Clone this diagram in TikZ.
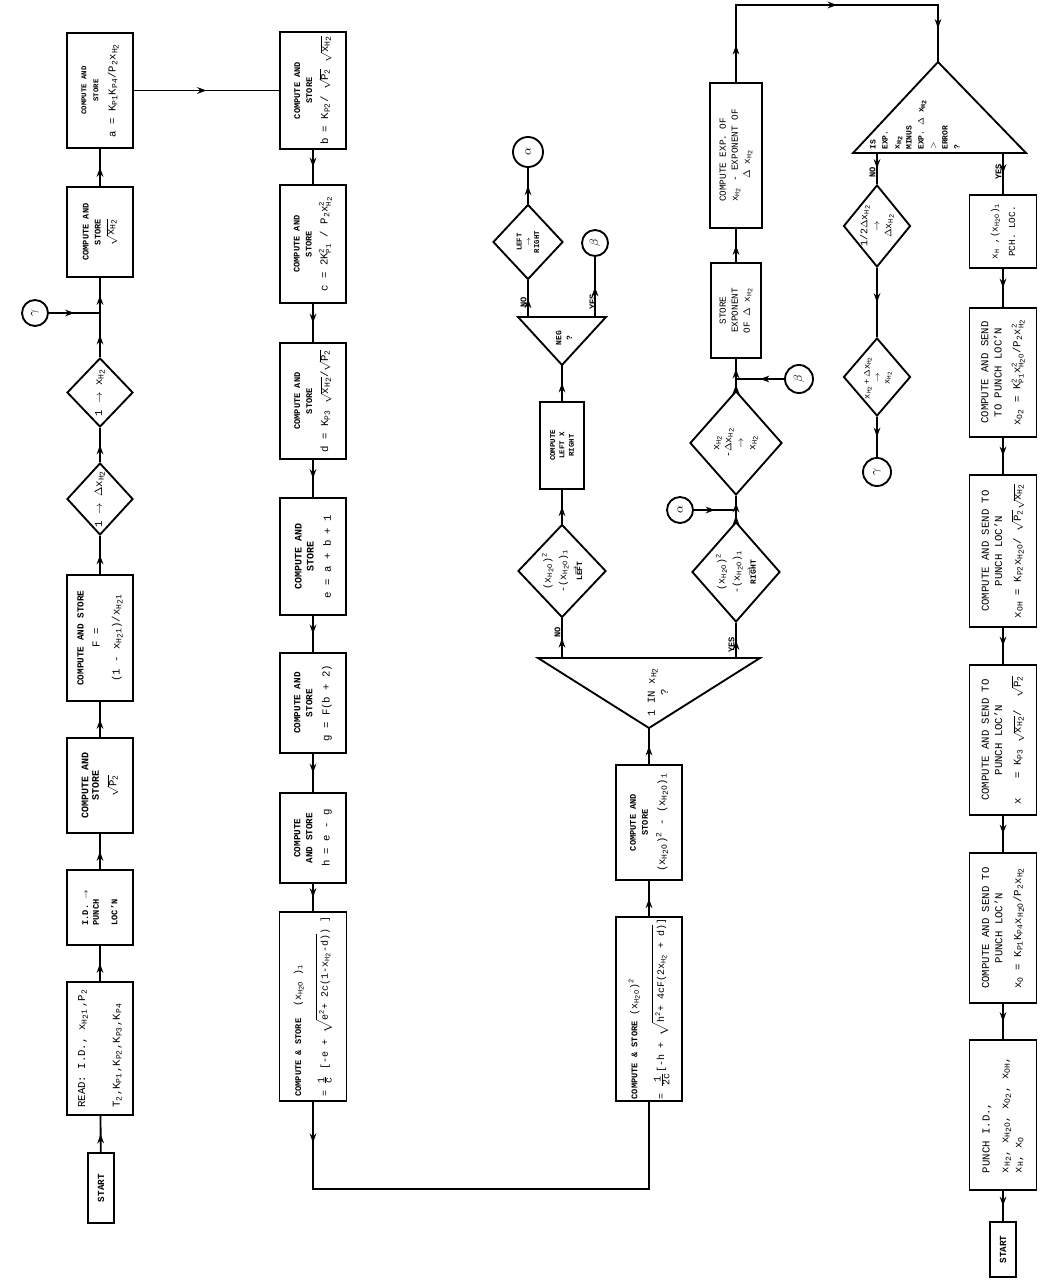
\documentclass[tikz,border=0pt]{standalone}
\usepackage{fontspec}
\setmainfont{Liberation Mono}
\usetikzlibrary{shapes.geometric,arrows.meta,decorations.markings}
\newcommand\sbs[1]{\textsubscript{#1}}
\newcommand\sps[1]{\textsuperscript{#1}}
\newcommand\lo[1]{\raisebox{-0.3ex}{#1}}
\newcommand\xH{x\sbs{H\lo{2}}}
\newcommand\xHi{x\sbs{H\lo{2}1}}
\newcommand\xHO{x\sbs{H\lo{2}O}}
\newcommand\Kp[1]{K\sbs{P#1}}
\newcommand\rtt[1]{$\sqrt{\mbox{#1}}$}
\newcommand\scr{\fontsize{5.5}{6}\selectfont}
\newcommand\sus[3]{$\mbox{#1}^{\mbox{\scr #2}}_{\mbox{\scr #3}}$}
\newcommand\hdr[2]{{\fontsize{#1}{#1}\selectfont\bfseries #2}}
\begin{document}
\begin{tikzpicture}[x=0.75pt,y=-0.75pt,
  every node/.style={font=\fontsize{8}{10}\selectfont},
  ln/.style={line width=1.4pt,line join=miter},
  pbox/.style 2 args={draw,line width=1.4pt,rotate=90,minimum width={#1*0.75pt},minimum height={#2*0.75pt},inner sep=1pt,align=center},
  pdia/.style 2 args={draw,diamond,line width=1.4pt,rotate=90,minimum width={#1*0.75pt},minimum height={#2*0.75pt},inner sep=0pt},
  dtx/.style={rotate=90,inner sep=0pt,align=center},
  pcirc/.style={draw,circle,line width=1.4pt,minimum size={#1*1.5pt},inner sep=0pt,rotate=90,font=\fontsize{9}{9}\selectfont},
  lbl/.style={rotate=90,inner sep=1pt,anchor=south,font=\fontsize{6.5}{7}\selectfont\bfseries},
  farr/.style={line width=1.4pt,postaction={decorate},decoration={markings,mark=at position #1 with {\arrow{Stealth[length=7pt,width=5pt]}}}},
  farr/.default=0.5]
\fill[white] (0,0) rectangle (1040,1284);
\useasboundingbox (0,0) rectangle (1040,1284);

% ---------------- column 1 (upward) ----------------
\node[pbox={70}{26},font=\fontsize{7}{8}\selectfont\bfseries] (start1) at (101,1188) {START};
\node[pbox={133}{66},align=left] (read) at (100,1048.5) {READ: I.D., \xHi\,,P\sbs{2}\\[16pt]T\sbs{2},\Kp{1},\Kp{2},\Kp{3},\Kp{4}};
\node[pbox={75}{66},align=left,font=\fontsize{6.5}{8}\selectfont\bfseries] (idp) at (100,907.5) {I.D. $\to$\\PUNCH\\[6pt]LOC'N};
\node[pbox={95}{66}] (sqp2) at (100,785.5) {\hdr{7.5}{COMPUTE AND}\\[-2pt]\hdr{7.5}{STORE}\\[3pt]\rtt{P\sbs{2}}};
\node[pbox={126}{66}] (fbox) at (100,638) {\hdr{7}{COMPUTE AND STORE}\\[2pt]F =\\[5pt](1 - \xHi)/\xHi};
\node[pdia={72}{66}] (d1) at (100,499) {};
\node[dtx] (d1t) at (d1) {1 $\to$ $\Delta$\xH};
\node[pdia={69}{66}] (d2) at (100,392.5) {};
\node[dtx] (d2t) at (d2) {1 $\to$ \xH};
\coordinate (j1) at (100,313);
\node[pcirc=13] (g1) at (35,313) {$\gamma$};
\node[pbox={90}{66}] (sqx) at (100,232) {\hdr{6.5}{COMPUTE AND}\\[-1pt]\hdr{6.5}{STORE}\\\rtt{\xH}};
\node[pbox={115}{66}] (abox) at (100,90.5) {\hdr{5.5}{COMPUTE AND}\\[-1pt]\hdr{5.5}{STORE}\\[3pt]a = \Kp{1}\Kp{4}/P\sbs{2}\xH};

% ---------------- column 2 (downward) ----------------
\node[pbox={117}{66}] (bbox) at (313,90.5) {\hdr{6.5}{COMPUTE AND}\\[-1pt]\hdr{6.5}{STORE}\\[2pt]b = \Kp{2}/ \rtt{P\sbs{2}} \rtt{\xH}};
\node[pbox={118}{66}] (cbox) at (313,244) {\hdr{6.5}{COMPUTE AND}\\[-1pt]\hdr{6.5}{STORE}\\[2pt]c = 2\sus{K}{2}{P1} / P\sbs{2}\sus{x}{2}{H\lo{2}}};
\node[pbox={116}{66}] (dbox) at (313,401) {\hdr{6.5}{COMPUTE AND}\\[-1pt]\hdr{6.5}{STORE}\\[2pt]d = \Kp{3} \rtt{\xH}/\rtt{P\sbs{2}}};
\node[pbox={117}{66}] (ebox) at (313,556.5) {\hdr{7.5}{COMPUTE AND}\\[-1pt]\hdr{7.5}{STORE}\\[3pt]e = a + b + 1};
\node[pbox={100}{66}] (gbox) at (313,703) {\hdr{7}{COMPUTE AND}\\[-1pt]\hdr{7}{STORE}\\[3pt]g = F(b + 2)};
\node[pbox={90}{66}] (hbox) at (313,838) {\hdr{7}{COMPUTE}\\[-1pt]\hdr{7}{AND STORE}\\[3pt]h = e - g};
\node[pbox={189}{67},align=left,font=\fontsize{7.5}{9}\selectfont] (x1box) at (313,1006.5) {\hdr{6.5}{COMPUTE \& STORE}\ \ (\xHO\ )\sbs{1}\\[8pt]= $\frac{\mbox{1}}{\mbox{c}}$ [-e + $\sqrt{\mbox{e\sps{2}+ 2c(1-\xH-d)}}$) ]};
\coordinate (c1) at (313,1189);
\coordinate (c2) at (649,1189);

% ---------------- column 3 ----------------
\node[pbox={182}{66},align=left,font=\fontsize{7.5}{9}\selectfont] (x2box) at (649,1009) {\hdr{6.5}{COMPUTE \& STORE}\ (\xHO)\sps{2}\\[8pt]= $\frac{\mbox{1}}{\mbox{2c}}$[-h + $\sqrt{\mbox{h\sps{2}+ 4cF(2\xH\ + d)}}$]};
\node[pbox={115}{66}] (diffbox) at (649,822.5) {\hdr{6.5}{COMPUTE AND}\\[-1pt]\hdr{6.5}{STORE}\\[3pt](\xHO)\sps{2} - (\xHO)\sbs{1}};

\draw[ln] (538,658) -- (760,658) -- (649,728) -- cycle;
\coordinate (T1a) at (649,728);
\coordinate (T1l) at (562,658);
\coordinate (T1r) at (736,658);
\node[dtx] (T1t) at (658,692) {1 IN \xH\\?};

\node[pdia={93}{88}] (ldiam) at (562,571) {};
\node[dtx,font=\fontsize{7.5}{9.5}\selectfont] (ldt) at (ldiam) {(\xHO)\sps{2}\\[2pt]-(\xHO)\sbs{1}\\[-1pt]{\fontsize{6}{6}\selectfont$\to$}\\[-6pt]\hdr{6}{LEFT}};
\node[pbox={87}{44},font=\fontsize{5.5}{7}\selectfont\bfseries] (lxr) at (562,445.5) {COMPUTE\\LEFT X\\RIGHT};

\draw[ln] (518,317) -- (606,317) -- (562,365) -- cycle;
\coordinate (T2a) at (562,365);
\coordinate (T2l) at (528,317);
\coordinate (T2r) at (595,317);
\node[dtx,font=\fontsize{6}{8}\selectfont\bfseries] (T2t) at (564,338) {NEG\\?};

\node[pdia={75}{70}] (lrdiam) at (528,242) {};
\node[dtx,font=\fontsize{5.5}{6.5}\selectfont\bfseries] (lrdt) at (lrdiam) {LEFT\\$\to$\\RIGHT};
\node[pcirc=15] (al1) at (528,152) {$\alpha$};
\node[pcirc=13] (be1) at (595,243) {$\beta$};

\node[pdia={100}{88}] (rdiam) at (736,572) {};
\node[dtx,font=\fontsize{7.5}{9.5}\selectfont] (rdt) at (rdiam) {(\xHO)\sps{2}\\[2pt]-(\xHO)\sbs{1}\\[-1pt]{\fontsize{6}{6}\selectfont$\to$}\\[-6pt]\hdr{6}{RIGHT}};
\coordinate (j3) at (736,510);
\node[pcirc=13] (al2) at (680,510) {$\alpha$};
\node[pdia={104}{92}] (xdiam) at (736,443) {};
\node[dtx,font=\fontsize{7.5}{9}\selectfont] (xdt) at (xdiam) {\xH\\-$\Delta$\xH\\$\to$\\\xH};
\coordinate (j2) at (736,379);
\node[pcirc=14] (be2) at (799,379) {$\beta$};
\node[pbox={95}{50},font=\fontsize{7}{9}\selectfont] (stbox) at (736,310.5) {STORE\\EXPONENT\\OF $\Delta$ \xH};
\node[pbox={145}{52},align=left,font=\fontsize{7}{9}\selectfont] (cebox) at (736,155.5) {COMPUTE EXP. OF\\\xH\ - EXPONENT OF\\\hspace*{2.5em}$\Delta$ \xH};
\coordinate (c3) at (736,5);
\coordinate (c4) at (938,5);

% ---------------- column 4 ----------------
\draw[ln] (938,62) -- (1026,153) -- (853,153) -- cycle;
\coordinate (T3a) at (938,62);
\coordinate (T3l) at (877,153);
\coordinate (T3r) at (1003,153);
\node[dtx,align=left,anchor=north west,font=\fontsize{6}{9}\selectfont\bfseries] (T3t) at (870,150) {IS\\EXP.\\\xH\\MINUS\\EXP. $\Delta$ \xH\\$>$\\ERROR\\?};

\node[pdia={82}{67}] (hd) at (877,226) {};
\node[dtx,font=\fontsize{7.5}{9}\selectfont] (hdt) at (hd) {1/2$\Delta$\xH\\$\to$\\$\Delta$\xH};
\node[pdia={78}{67}] (pd) at (877,377) {};
\node[dtx,font=\fontsize{6.5}{7.5}\selectfont] (pdt) at (878,378) {\xH\,+\,$\Delta$\xH\\$\to$\\\xH};
\node[pcirc=14] (g2) at (877,472) {$\gamma$};

\node[pbox={73}{67},font=\fontsize{7}{9}\selectfont] (pch) at (1003,231.5) {x\sbs{H}\ ,(\xHO)\sbs{1}\\[4pt]PCH. LOC.};
\node[pbox={129}{67}] (o2) at (1003,372.5) {COMPUTE AND SEND\\TO PUNCH LOC'N\\[4pt]x\sbs{O\lo{2}} = \sus{K}{2}{P1}\sus{x}{2}{H\lo{2}O}/P\sbs{2}\sus{x}{2}{H\lo{2}}};
\node[pbox={152}{67}] (oh) at (1003,551) {COMPUTE AND SEND TO\\PUNCH LOC'N\\[4pt]x\sbs{OH} = \Kp{2}\xHO/ \rtt{P\sbs{2}}\rtt{\xH}};
\node[pbox={150}{67}] (xx) at (1003,740) {COMPUTE AND SEND TO\\PUNCH LOC'N\\[4pt]x\ \ \ = \Kp{3} \rtt{\xH}/\ \ \rtt{P\sbs{2}}};
\node[pbox={150}{67}] (xo) at (1003,928) {COMPUTE AND SEND TO\\PUNCH LOC'N\\[4pt]x\sbs{O} = \Kp{1}\Kp{4}\xHO/P\sbs{2}\xH};
\node[pbox={150}{67},align=left] (punch) at (1003,1115) {PUNCH I.D.,\\[4pt]\xH, \xHO, x\sbs{O\lo{2}}, x\sbs{OH},\\x\sbs{H}, x\sbs{O}};
\node[pbox={55}{26},font=\fontsize{7}{8}\selectfont\bfseries] (start2) at (1003,1249.5) {START};

% ---------------- labels ----------------
\node[lbl] (noT1) at (562,632) {NO};
\node[lbl] (yesT1) at (736,645) {YES};
\node[lbl] (noT2) at (528,302) {NO};
\node[lbl] (yesT2) at (597,302) {YES};
\node[lbl] (noT3) at (877,172) {NO};
\node[lbl] (yesT3) at (1003,172) {YES};

% ---------------- connectors ----------------
\draw[farr] (start1) -- (read);
\draw[farr] (read) -- (idp);
\draw[farr] (idp) -- (sqp2);
\draw[farr] (sqp2) -- (fbox);
\draw[farr] (fbox) -- (d1);
\draw[farr] (d1) -- (d2);
\draw[farr] (d2) -- (j1);
\draw[farr] (g1) -- (j1);
\draw[farr] (j1) -- (sqx);
\draw[farr] (sqx) -- (abox);
\draw[farr] (abox) -- (bbox);
\draw[farr] (bbox) -- (cbox);
\draw[farr] (cbox) -- (dbox);
\draw[farr] (dbox) -- (ebox);
\draw[farr] (ebox) -- (gbox);
\draw[farr] (gbox) -- (hbox);
\draw[farr] (hbox) -- (x1box);
\draw[farr=0.08] (x1box) -- (c1) -- (c2) -- (x2box);
\draw[farr] (x2box) -- (diffbox);
\draw[farr] (diffbox) -- (T1a);
\draw[farr] (T1l) -- (ldiam);
\draw[farr] (ldiam) -- (lxr);
\draw[farr] (lxr) -- (T2a);
\draw[farr] (T2l) -- (lrdiam);
\draw[farr] (lrdiam) -- (al1);
\draw[farr] (T2r) -- (be1);
\draw[farr] (T1r) -- (rdiam);
\draw[farr] (rdiam) -- (j3);
\draw[farr] (al2) -- (j3);
\draw[farr] (j3) -- (xdiam);
\draw[farr] (xdiam) -- (j2);
\draw[farr] (be2) -- (j2);
\draw[farr] (j2) -- (stbox);
\draw[farr] (stbox) -- (cebox);
\draw[line width=1.4pt,postaction={decorate},decoration={markings,
  mark=at position 0.11 with {\arrow{Stealth[length=7pt,width=5pt]}},
  mark=at position 0.53 with {\arrow{Stealth[length=7pt,width=5pt]}},
  mark=at position 0.9 with {\arrow{Stealth[length=7pt,width=5pt]}}}]
  (cebox) -- (c3) -- (c4) -- (T3a);
\draw[farr] (T3l) -- (hd);
\draw[farr] (hd) -- (pd);
\draw[farr] (pd) -- (g2);
\draw[farr] (T3r) -- (pch);
\draw[farr] (pch) -- (o2);
\draw[farr] (o2) -- (oh);
\draw[farr] (oh) -- (xx);
\draw[farr] (xx) -- (xo);
\draw[farr] (xo) -- (punch);
\draw[farr] (punch) -- (start2);
\end{tikzpicture}
\end{document}
